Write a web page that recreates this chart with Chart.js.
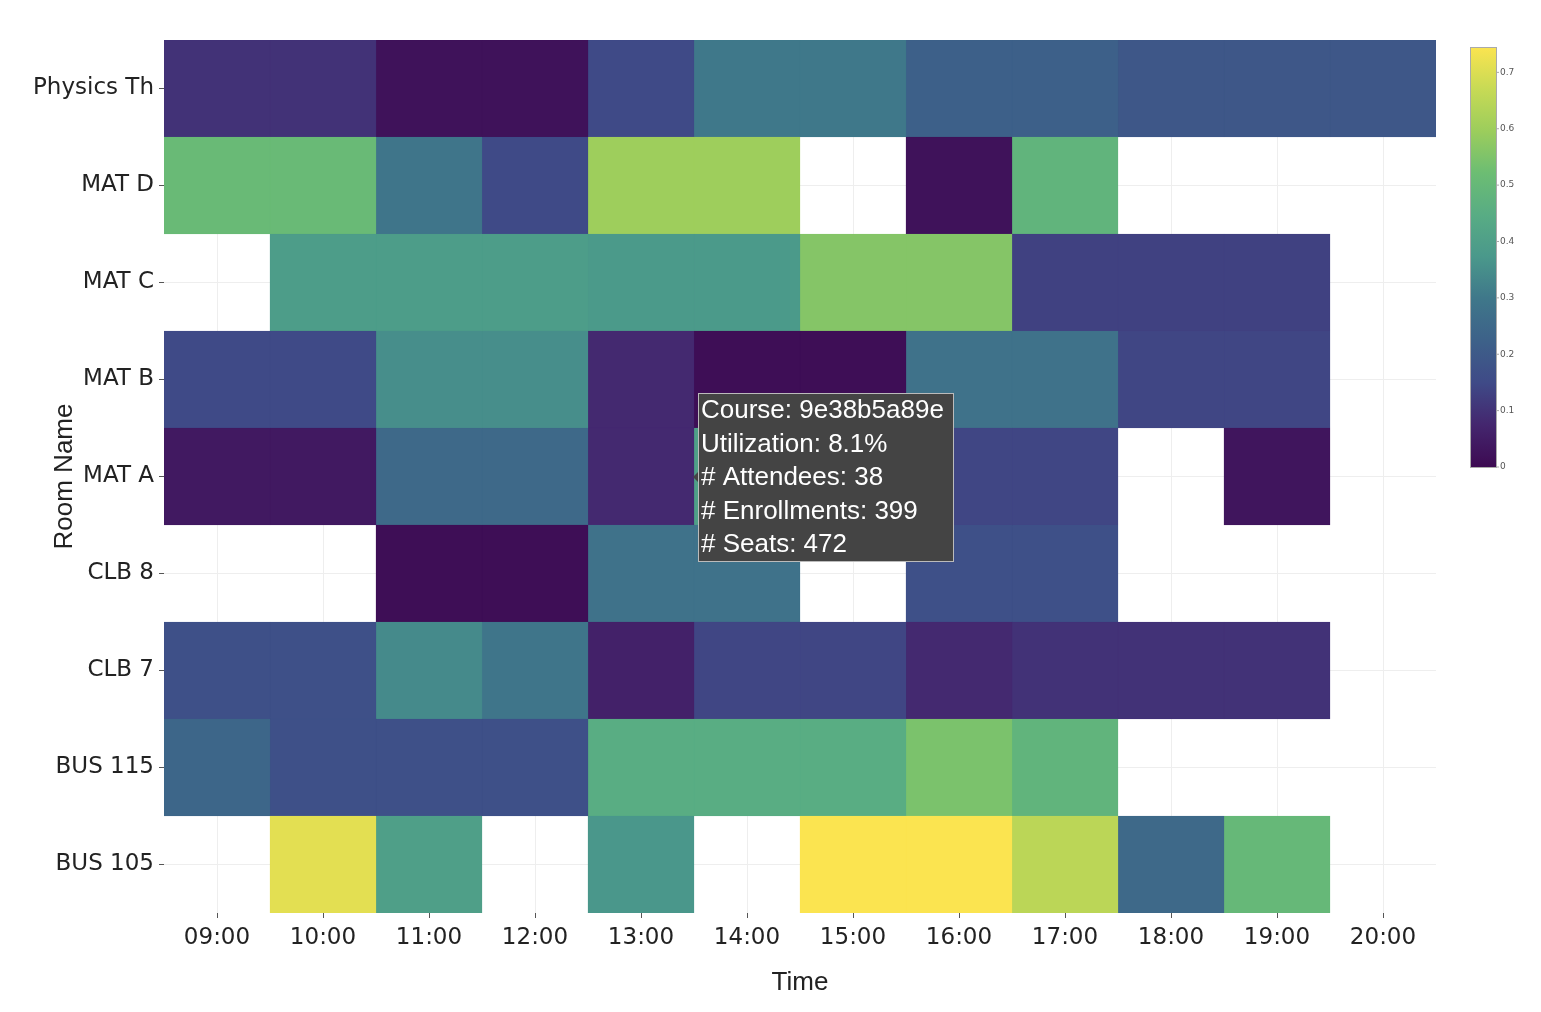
<!DOCTYPE html>
<html lang="en">
<head>
    <meta charset="UTF-8">
    <title>Room Utilization Heatmap</title>
    <script src="https://cdn.jsdelivr.net/npm/chart.js"></script>
    <style>
        body { margin: 0; background: #fff; }
    </style>
</head>
<body>
<canvas id="heatmap" width="1541" height="1012"></canvas>
<script>
    // rooms top to bottom, hours left to right
    const rooms = ['Physics Th', 'MAT D', 'MAT C', 'MAT B', 'MAT A', 'CLB 8', 'CLB 7', 'BUS 115', 'BUS 105'];
    const times = ['09:00', '10:00', '11:00', '12:00', '13:00', '14:00', '15:00', '16:00', '17:00', '18:00', '19:00', '20:00'];

    // utilization per room (null = no booking)
    const physicsTh = [0.10, 0.10, 0.02, 0.02, 0.15, 0.30, 0.30, 0.22, 0.22, 0.19, 0.19, 0.19];
    const matD      = [0.51, 0.51, 0.29, 0.15, 0.60, 0.60, null, 0.02, 0.48, null, null, null];
    const matC      = [null, 0.39, 0.39, 0.39, 0.38, 0.38, 0.56, 0.56, 0.13, 0.13, 0.13, null];
    const matB      = [0.15, 0.15, 0.35, 0.35, 0.08, 0.01, 0.01, 0.28, 0.28, 0.14, 0.14, null];
    const matA      = [0.04, 0.04, 0.25, 0.25, 0.081, 0.40, 0.40, 0.14, 0.14, null, 0.03, null];
    const clb8      = [null, null, 0.01, 0.01, 0.28, 0.28, null, 0.17, 0.17, null, null, null];
    const clb7      = [0.17, 0.17, 0.34, 0.29, 0.06, 0.14, 0.14, 0.08, 0.10, 0.10, 0.10, null];
    const bus115    = [0.24, 0.17, 0.17, 0.17, 0.45, 0.45, 0.45, 0.545, 0.48, null, null, null];
    const bus105    = [null, 0.71, 0.40, null, 0.37, null, 0.745, 0.745, 0.65, 0.25, 0.50, null];
    const utilization = [physicsTh, matD, matC, matB, matA, clb8, clb7, bus115, bus105];

    const zMax = 0.745;
    const colorbarTicks = [0, 0.1, 0.2, 0.3, 0.4, 0.5, 0.6, 0.7];

    // hover label shown in the picture
    const hoverLines = ['Course: 9e38b5a89e', 'Utilization: 8.1%', '# Attendees: 38', '# Enrollments: 399', '# Seats: 472'];

    // viridis, as it looks in the screenshot (a bit washed out)
    const colorStops = ['#3d0a52', '#44266e', '#3f4a87', '#3d6189', '#3f778a', '#4a988b',
                        '#58ac84', '#6cbd73', '#9ccd5c', '#c7da55', '#fbe450'];

    function hexToRgb(h) {
        return [parseInt(h.slice(1, 3), 16), parseInt(h.slice(3, 5), 16), parseInt(h.slice(5, 7), 16)];
    }

    function colorFor(v) {
        let t = Math.max(0, Math.min(1, v / zMax)) * (colorStops.length - 1);
        let i = Math.min(Math.floor(t), colorStops.length - 2);
        let f = t - i;
        let a = hexToRgb(colorStops[i]), b = hexToRgb(colorStops[i + 1]);
        let c = a.map((x, k) => Math.round(x + (b[k] - x) * f));
        return 'rgb(' + c.join(',') + ')';
    }

    // one dataset per hour column, floating bars span the hour
    const datasets = times.map((t, col) => {
        const colors = rooms.map((r, row) => utilization[row][col] == null ? 'rgba(0,0,0,0)' : colorFor(utilization[row][col]));
        return {
            label: t,
            data: rooms.map((r, row) => utilization[row][col] == null ? null : [col - 0.5, col + 0.5]),
            backgroundColor: colors,
            borderColor: colors,
            borderWidth: 1,
            borderSkipped: false,
            barPercentage: 1,
            categoryPercentage: 1,
            grouped: false
        };
    });

    const extras = {
        id: 'extras',
        afterDraw(chart) {
            const ctx = chart.ctx;
            // colorbar
            const cx = 1470, cw = 26, top = 47, bottom = 467;
            const grad = ctx.createLinearGradient(0, bottom, 0, top);
            colorStops.forEach((c, i) => grad.addColorStop(i / (colorStops.length - 1), c));
            ctx.save();
            ctx.fillStyle = grad;
            ctx.fillRect(cx, top, cw, bottom - top);
            ctx.strokeStyle = '#aaa';
            ctx.lineWidth = 1;
            ctx.strokeRect(cx + 0.5, top + 0.5, cw, bottom - top);
            ctx.fillStyle = '#555';
            ctx.font = '9px "DejaVu Sans"';
            ctx.textBaseline = 'middle';
            colorbarTicks.forEach(v => {
                let y = bottom - (v / zMax) * (bottom - top);
                ctx.beginPath();
                ctx.moveTo(cx + cw, y);
                ctx.lineTo(cx + cw + 3, y);
                ctx.stroke();
                ctx.fillText(String(v), cx + cw + 4, y);
            });

            // hover label
            const bx = 698, by = 393, bw = 255, bh = 168;
            ctx.fillStyle = '#444444';
            ctx.fillRect(bx, by, bw, bh);
            ctx.strokeStyle = '#bbbbbb';
            ctx.strokeRect(bx + 0.5, by + 0.5, bw, bh);
            ctx.beginPath();
            ctx.moveTo(bx, 472);
            ctx.lineTo(bx - 5, 477);
            ctx.lineTo(bx, 482);
            ctx.fillStyle = '#444444';
            ctx.fill();
            ctx.fillStyle = '#ffffff';
            ctx.font = '26px "Liberation Sans"';
            ctx.textBaseline = 'middle';
            hoverLines.forEach((line, i) => ctx.fillText(line, bx + 3, 411 + i * 33.5));
            ctx.restore();
        }
    };

    new Chart(document.getElementById('heatmap'), {
        type: 'bar',
        data: { labels: rooms, datasets: datasets },
        plugins: [extras],
        options: {
            indexAxis: 'y',
            responsive: false,
            animation: false,
            layout: { padding: { top: 40, right: 105, left: 0, bottom: 0 } },
            plugins: {
                legend: { display: false },
                tooltip: { enabled: false }
            },
            scales: {
                x: {
                    type: 'linear',
                    min: -0.5,
                    max: 11.5,
                    afterBuildTicks: (scale) => {
                        scale.ticks = times.map((t, i) => ({ value: i }));
                    },
                    afterFit: (scale) => { scale.height = 99; },
                    border: { display: false },
                    grid: { color: '#eeeeee', tickColor: '#555', tickLength: 5 },
                    ticks: {
                        color: '#222',
                        font: { family: 'DejaVu Sans', size: 23 },
                        padding: 6,
                        maxRotation: 0,
                        callback: (v) => times[v]
                    },
                    title: {
                        display: true,
                        text: 'Time',
                        color: '#222',
                        font: { family: 'Liberation Sans', size: 26 },
                        padding: { top: 0, bottom: 14 }
                    }
                },
                y: {
                    afterFit: (scale) => { scale.width = 164; },
                    border: { display: false },
                    grid: { offset: false, color: '#eeeeee', tickColor: '#555', tickLength: 5 },
                    ticks: {
                        color: '#222',
                        font: { family: 'DejaVu Sans', size: 23 },
                        padding: 5
                    },
                    title: {
                        display: true,
                        text: 'Room Name',
                        color: '#222',
                        font: { family: 'Liberation Sans', size: 26 },
                        padding: { top: 49, bottom: 0 }
                    }
                }
            }
        }
    });
</script>
</body>
</html>
